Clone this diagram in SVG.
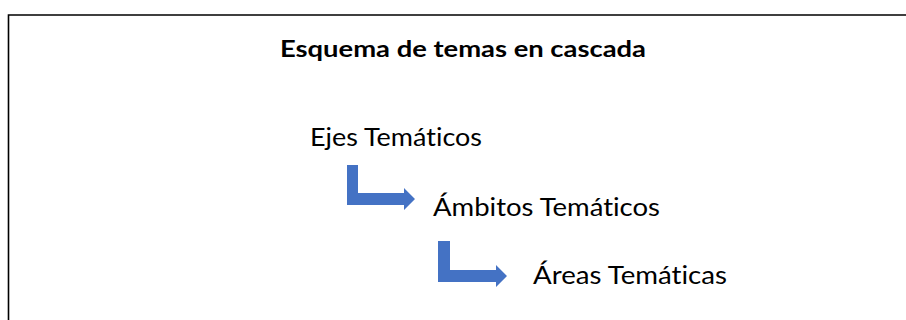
<svg xmlns="http://www.w3.org/2000/svg" width="906" height="320" viewBox="0 0 906 320">
<style>
.t{font-family:Lato,"Liberation Sans","Open Sans",sans-serif;fill:#000;font-variant-ligatures:none;font-feature-settings:"liga" 0}
.title{font-size:23px;font-weight:bold}
.lbl{font-size:25px}
.arr{fill:#4472C4}
</style>
<rect width="906" height="320" fill="#fff"/>
<path d="M8.5 320 V15 H906" fill="none" stroke="#000" stroke-width="1.6"/>
<g id="title"><text class="t title" x="280" y="57" textLength="366" lengthAdjust="spacingAndGlyphs">Esquema de temas en cascada</text></g>
<g id="ejes"><text class="t lbl" x="310" y="146" textLength="172" lengthAdjust="spacingAndGlyphs">Ejes Temáticos</text></g>
<g id="ambitos"><text class="t lbl" x="433" y="216" textLength="227" lengthAdjust="spacingAndGlyphs">Ámbitos Temáticos</text></g>
<g id="areas"><text class="t lbl" x="533" y="284" textLength="194" lengthAdjust="spacingAndGlyphs">Áreas Temáticas</text></g>
<g id="connectors">
<path class="arr" d="M347 165 H358 V193 H404 V188 L415 199 L404 210 V205 H347 Z"/>
<path class="arr" d="M438 241 H450 V270 H496 V265 L507 276 L496 287 V282 H438 Z"/>
</g>
</svg>
